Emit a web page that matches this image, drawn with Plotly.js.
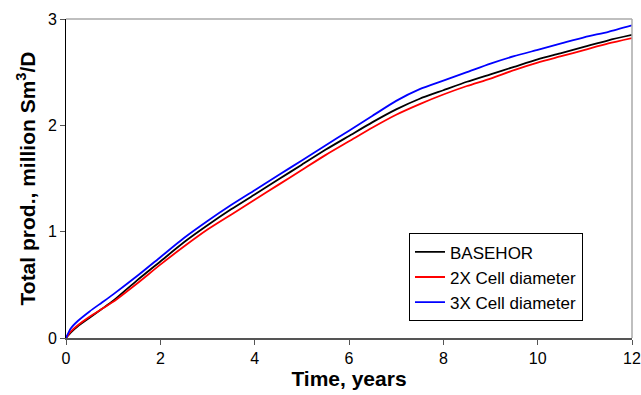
<!DOCTYPE html>
<html>
<head>
<meta charset="utf-8">
<script src="https://cdn.plot.ly/plotly-3.0.1.min.js"></script>
<style>html,body{margin:0;padding:0;background:#fff;}#chart{width:641px;height:395px;}</style>
</head>
<body>
<div id="chart"></div>
<script>
const timeYears = [0, 0.1, 0.25, 0.5, 0.75, 1, 1.5, 2, 2.5, 3, 3.5, 4, 4.5, 5, 5.5, 6, 6.5, 7, 7.5, 8, 8.5, 9, 9.5, 10, 10.5, 11, 11.5, 12];
const baseHor = [0, 0.05, 0.11, 0.19, 0.27, 0.35, 0.54, 0.72, 0.90, 1.06, 1.21, 1.35, 1.49, 1.63, 1.77, 1.90, 2.03, 2.15, 2.25, 2.33, 2.41, 2.48, 2.55, 2.62, 2.68, 2.74, 2.80, 2.85];
const cell2x = [0, 0.06, 0.12, 0.20, 0.27, 0.34, 0.51, 0.69, 0.86, 1.02, 1.16, 1.30, 1.44, 1.58, 1.72, 1.85, 1.98, 2.10, 2.20, 2.29, 2.37, 2.44, 2.52, 2.59, 2.65, 2.71, 2.77, 2.82];
const cell3x = [0, 0.09, 0.16, 0.25, 0.33, 0.41, 0.58, 0.76, 0.94, 1.10, 1.25, 1.39, 1.53, 1.67, 1.81, 1.95, 2.09, 2.23, 2.34, 2.42, 2.50, 2.58, 2.65, 2.71, 2.77, 2.83, 2.88, 2.94];
const seriesNames = ["BASEHOR", "2X Cell diameter", "3X Cell diameter"];
const seriesColors = ["#000000", "#ff0000", "#0000ff"];
const xTicks = [0, 2, 4, 6, 8, 10, 12];
const yTicks = [0, 1, 2, 3];

const seriesData = [baseHor, cell2x, cell3x];
const traces = seriesData.map((ys, i) => ({
  x: timeYears, y: ys, type: "scatter", mode: "lines",
  name: seriesNames[i],
  line: {color: seriesColors[i], width: 1.8, shape: "spline", smoothing: 0.6}
}));

const fam = "Liberation Sans, Arial, sans-serif";
const layout = {
  width: 641, height: 395,
  margin: {l: 66, r: 9, t: 19, b: 57},
  paper_bgcolor: "#fff", plot_bgcolor: "#fff",
  font: {family: fam, size: 16, color: "#000"},
  showlegend: true,
  legend: {
    x: 0.606, y: 0.328, xanchor: "left", yanchor: "top",
    bgcolor: "#fff", bordercolor: "#000", borderwidth: 1,
    font: {family: fam, size: 17, color: "#000"},
    itemwidth: 30, tracegroupgap: 0
  },
  xaxis: {
    range: [0, 12], tickvals: xTicks, ticktext: xTicks.map(String),
    showgrid: false, zeroline: false,
    showline: true, linecolor: "#555", linewidth: 1.5,
    ticks: "outside", ticklen: 5, tickcolor: "#555", tickwidth: 1,
    tickfont: {family: fam, size: 16, color: "#000"},
    title: {text: "<b>Time, years</b>", font: {family: fam, size: 21, color: "#000"}, standoff: 5}
  },
  yaxis: {
    range: [0, 3], tickvals: yTicks, ticktext: yTicks.map(String),
    showgrid: false, zeroline: false,
    showline: true, linecolor: "#000", linewidth: 1,
    ticks: "outside", ticklen: 5, tickcolor: "#555", tickwidth: 1,
    tickfont: {family: fam, size: 16, color: "#000"},
    title: {text: "<b>Total prod., million Sm<sup>3</sup>/D</b>", font: {family: fam, size: 21, color: "#000"}, standoff: 6}
  },
  shapes: [
    {type: "line", xref: "paper", yref: "paper", x0: 0, x1: 1, y0: 1, y1: 1, line: {color: "#aaaaaa", width: 1.5}},
    {type: "line", xref: "paper", yref: "paper", x0: 1, x1: 1, y0: 0, y1: 1, line: {color: "#aaaaaa", width: 1.5}}
  ]
};
Plotly.newPlot("chart", traces, layout, {displayModeBar: false, staticPlot: true});
</script>
</body>
</html>
